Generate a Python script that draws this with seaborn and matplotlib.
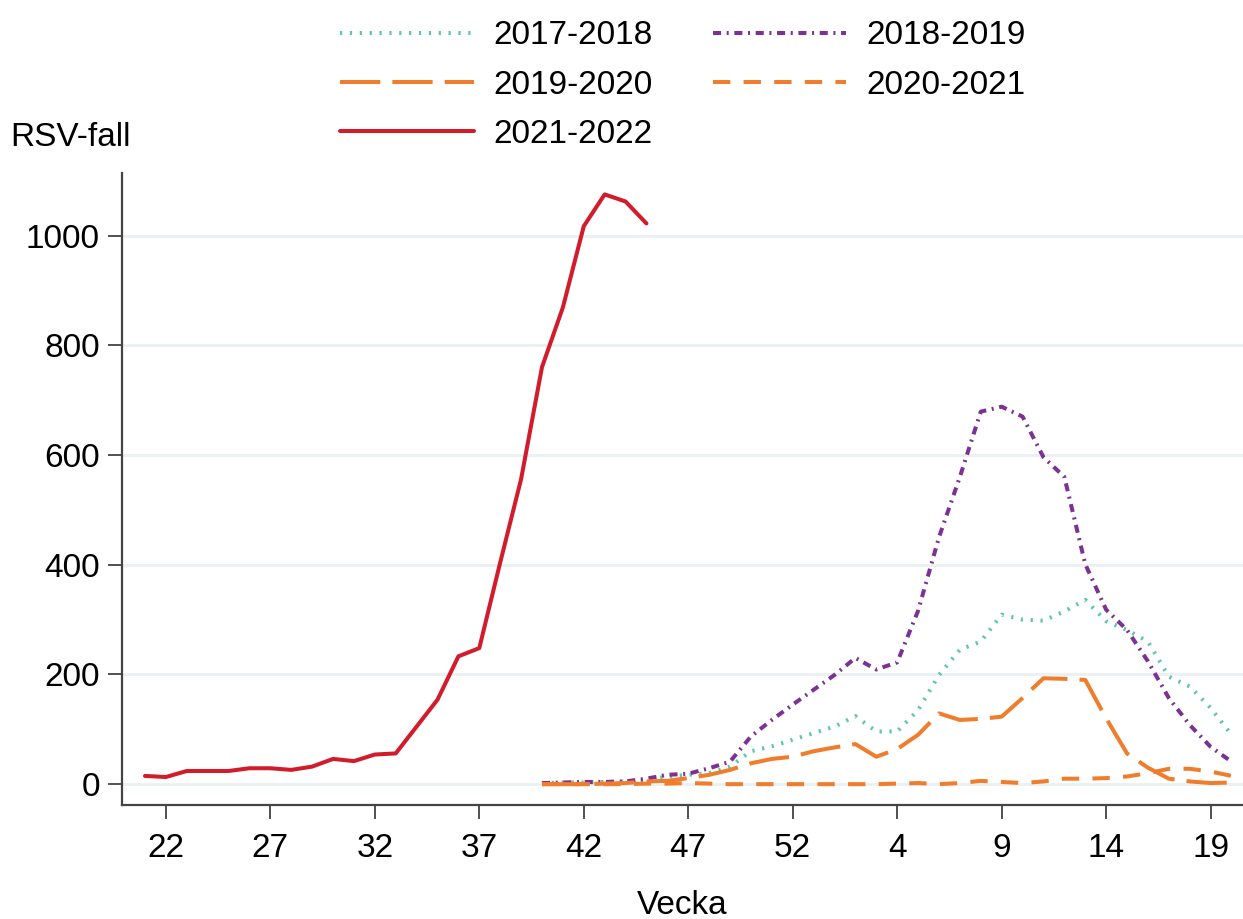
import numpy as np
import pandas as pd
import matplotlib
matplotlib.use("Agg")
import matplotlib.pyplot as plt
import seaborn as sns

# ── Data ──────────────────────────────────────────
# week axis runs 21..53 then 1..20 of the next year
weeks = list(range(21, 54)) + list(range(1, 21))
pos = np.arange(21, 21 + len(weeks))          # continuous position per week

tick_weeks = [22, 27, 32, 37, 42, 47, 52, 4, 9, 14, 19]

seasons = ["2017-2018", "2018-2019", "2019-2020", "2020-2021", "2021-2022"]

# seasons 2017-18 .. 2020-21 run from week 40 to week 20
s2017 = [2, 3, 3, 4, 5, 7, 14, 17, 20, 32, 60, 69, 81, 93, 105, 124, 96, 96,
         135, 199, 245, 260, 309, 300, 298, 315, 336, 297, 281, 260, 196, 178,
         139, 90]
s2018 = [2, 3, 4, 4, 5, 10, 17, 19, 29, 41, 87, 117, 145, 172, 199, 230, 209,
         222, 316, 450, 560, 679, 688, 670, 596, 560, 401, 318, 281, 224, 157,
         108, 68, 41]
s2019 = [0, 0, 0, 1, 2, 5, 6, 11, 17, 26, 38, 46, 50, 60, 67, 73, 50, 64, 90,
         129, 117, 119, 123, 157, 193, 192, 190, 120, 56, 30, 10, 5, 2, 3]
s2020 = [0, 0, 0, 0, 0, 1, 1, 2, 1, 0, 0, 0, 0, 0, 0, 0, 0, 1, 2, 0, 2, 6, 4,
         2, 5, 10, 10, 11, 14, 20, 28, 28, 23, 15]
# 2021-22 runs from week 21 to week 45
s2021 = [15, 13, 24, 24, 24, 29, 29, 26, 32, 46, 42, 54, 56, 105, 154, 233,
         248, 404, 556, 760, 869, 1017, 1075, 1062, 1022]

start_40 = weeks.index(40)
frames = []
for name, vals in zip(seasons[:4], [s2017, s2018, s2019, s2020]):
    frames.append(pd.DataFrame({"pos": pos[start_40:start_40 + len(vals)],
                                "fall": vals, "season": name}))
frames.append(pd.DataFrame({"pos": pos[:len(s2021)], "fall": s2021,
                            "season": seasons[4]}))
df = pd.concat(frames, ignore_index=True)

palette = {"2017-2018": "#5ec5ae", "2018-2019": "#7b3294",
           "2019-2020": "#f07d2b", "2020-2021": "#f07d2b",
           "2021-2022": "#d21b2b"}
dashes = {"2017-2018": (0.55, 1.9), "2018-2019": (2.0, 1.4, 0.5, 1.4),
          "2019-2020": (10, 3), "2020-2021": (4.3, 3.3),
          "2021-2022": ""}

# ── Style ──────────────────────────────────────────
sns.set_style("ticks")
plt.rcParams["font.family"] = ["Liberation Sans", "DejaVu Sans"]
plt.rcParams["font.size"] = 24
plt.rcParams["text.color"] = "black"
plt.rcParams["axes.labelcolor"] = "black"
plt.rcParams["xtick.labelcolor"] = "black"
plt.rcParams["ytick.labelcolor"] = "black"

fig = plt.figure(figsize=(12.43, 9.19), dpi=100)
ax = fig.add_axes([122 / 1243, 1 - 805 / 919, 1 - 122 / 1243,
                   (805 - 173) / 919])

sns.lineplot(data=df, x="pos", y="fall", hue="season", style="season",
             hue_order=seasons, style_order=seasons, palette=palette,
             dashes=dashes, linewidth=2.9, ax=ax, legend=True)

ax.set_xlim(19.9, 73.55)
ax.set_ylim(-38, 1114)
ax.set_yticks([0, 200, 400, 600, 800, 1000])
ax.set_xticks([pos[weeks.index(w, 0 if w > 20 else 33)] for w in tick_weeks])
ax.set_xticklabels([str(w) for w in tick_weeks])
ax.grid(axis="y", color="#eaf1f3", linewidth=2)
ax.set_axisbelow(True)
ax.tick_params(axis="both", length=10, width=1.2, color="#333333",
               labelsize=24, pad=6)
ax.tick_params(axis="x", pad=10)
for side in ["top", "right"]:
    ax.spines[side].set_visible(False)
for side in ["left", "bottom"]:
    ax.spines[side].set_color("#444444")
    ax.spines[side].set_linewidth(1.6)

ax.set_xlabel("Vecka", fontsize=24, labelpad=19, color="black")
ax.set_ylabel("")
fig.text(10 / 1243, 1 - 137 / 919, "RSV-fall", fontsize=24,
         ha="left", va="center")

# legend: row-major look with 2 columns
handles, labels = ax.get_legend_handles_labels()
lookup = dict(zip(labels, handles))
order = ["2017-2018", "2019-2020", "2021-2022", "2018-2019", "2020-2021"]
ax.get_legend().remove()
fig.legend([lookup[k] for k in order], order, ncol=2, frameon=False,
           loc="upper left", bbox_to_anchor=(327 / 1243, 1 - 7 / 919),
           fontsize=24, handlelength=4.0, handletextpad=0.6,
           columnspacing=1.8, labelspacing=0.55, borderaxespad=0)

fig.savefig("out.png", dpi=100)
